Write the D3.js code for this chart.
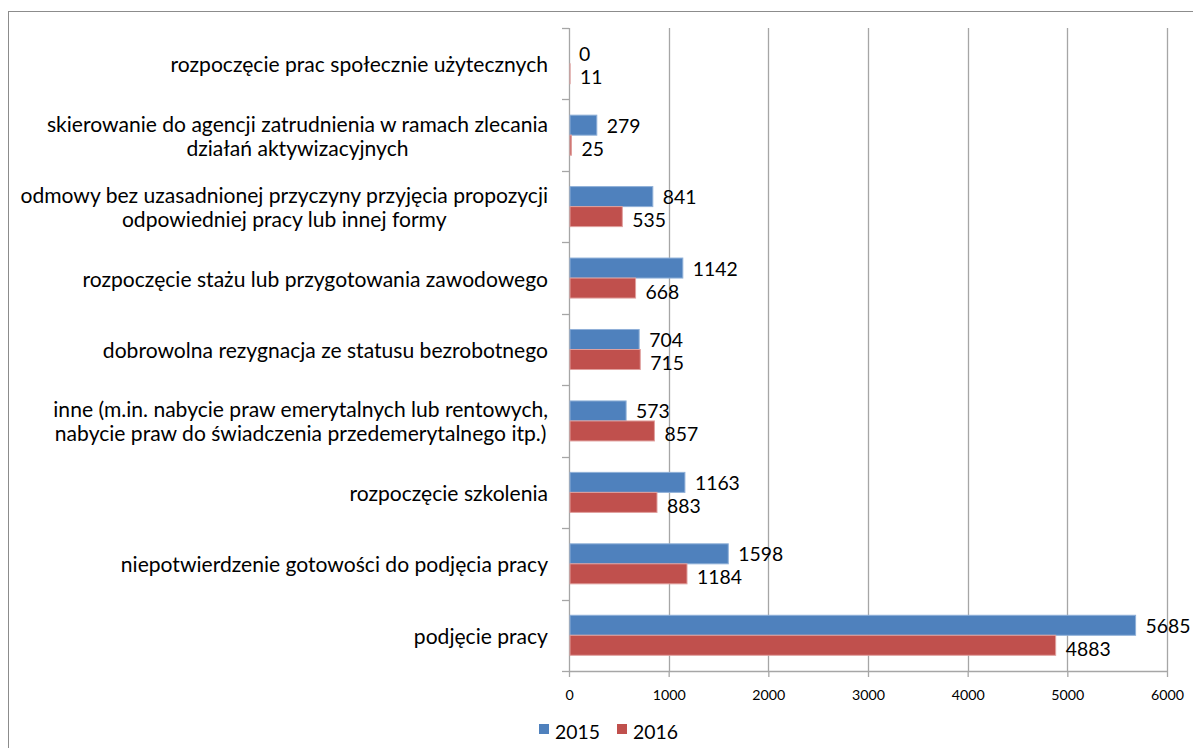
<!DOCTYPE html>
<html><head><meta charset="utf-8">
<script src="https://cdn.jsdelivr.net/npm/d3@7"></script>
<style>body{margin:0;background:#fff}svg{display:block}text{font-family:Lato,"Liberation Sans",sans-serif;fill:#000}</style>
</head><body>
<svg id="c" width="1193" height="748"></svg>
<script>
const categories = [
  ["rozpoczęcie prac społecznie użytecznych"],
  ["skierowanie do agencji zatrudnienia w ramach zlecania","działań aktywizacyjnych"],
  ["odmowy bez uzasadnionej przyczyny przyjęcia propozycji","odpowiedniej pracy lub innej formy"],
  ["rozpoczęcie stażu lub przygotowania zawodowego"],
  ["dobrowolna rezygnacja ze statusu bezrobotnego"],
  ["inne (m.in. nabycie praw emerytalnych lub rentowych,","nabycie praw do świadczenia przedemerytalnego itp.)"],
  ["rozpoczęcie szkolenia"],
  ["niepotwierdzenie gotowości do podjęcia pracy"],
  ["podjęcie pracy"]
];
const seriesNames = ["2015","2016"];
const values2015 = [0,279,841,1142,704,573,1163,1598,5685];
const values2016 = [11,25,535,668,715,857,883,1184,4883];
const xTicks = [0,1000,2000,3000,4000,5000,6000];
const colors = ["#4F81BD","#C0504D"];
const strokes = ["#8FB0D8","#E0A09E"];

(function(){
const svg = d3.select("#c");
const pl = 569, pr = 1167, pt = 28, pb = 671;

svg.append("rect").attr("x",8.5).attr("y",11.5).attr("width",1200).attr("height",760)
  .attr("fill","none").attr("stroke","#8c8c8c").attr("stroke-width",1);

const x = d3.scaleLinear().domain([0,6000]).range([pl,pr]);
const idx = d3.range(categories.length);
const y = d3.scaleBand().domain(idx).range([pt,pb]).padding(0);
const ys = d3.scaleBand().domain(seriesNames).range([0,y.bandwidth()]).paddingInner(0).paddingOuter(0.785);

function fit(str, target, base){
  const t = svg.append("text").attr("font-size",base).text(str);
  const w = t.node().getComputedTextLength(); t.remove();
  return base*target/w;
}
const catFont = fit("odmowy bez uzasadnionej przyczyny przyjęcia propozycji", 528, 20);
const valFont = fit("5685", 45, 20);
const tickFont = fit("6000", 33, 14);
const legFont = fit("2015", 45, 20);

svg.append("g").selectAll("line").data(xTicks.slice(1)).join("line")
  .attr("x1",d=>Math.round(x(d))+0.5).attr("x2",d=>Math.round(x(d))+0.5)
  .attr("y1",pt).attr("y2",pb)
  .attr("stroke","#a6a6a6").attr("stroke-width",1.3);

const xa = svg.append("g").attr("transform",`translate(0,${pb})`)
  .call(d3.axisBottom(x).tickValues(xTicks).tickSize(6).tickSizeOuter(0).tickFormat(d3.format("d")));
xa.select(".domain").attr("stroke","#a6a6a6").attr("stroke-width",1.3);
xa.selectAll(".tick line").attr("stroke","#a6a6a6").attr("stroke-width",1.3);
xa.selectAll(".tick text").attr("font-size",tickFont).attr("font-family","Lato,'Liberation Sans',sans-serif").attr("y",24).attr("dy","0.32em").attr("fill","#000");

const bounds = idx.map(i=>y(i)).concat([pb]);
svg.append("line").attr("x1",pl+0.5).attr("x2",pl+0.5).attr("y1",pt).attr("y2",pb)
  .attr("stroke","#a6a6a6").attr("stroke-width",1.3);
svg.append("g").selectAll("line").data(bounds).join("line")
  .attr("x1",pl-7).attr("x2",pl).attr("y1",d=>Math.round(d)+0.5).attr("y2",d=>Math.round(d)+0.5)
  .attr("stroke","#a6a6a6").attr("stroke-width",1.3);

const series = [values2015, values2016];
const labShift = [0,3];
series.forEach((vals,s)=>{
  const g = svg.append("g");
  g.selectAll("rect").data(idx).join("rect")
    .attr("x",pl+1).attr("y",i=>y(i)+ys(seriesNames[s]))
    .attr("width",i=>Math.max(0,x(vals[i])-pl-1)).attr("height",ys.bandwidth())
    .attr("fill",colors[s]).attr("stroke",i=>vals[i]>0?strokes[s]:"none").attr("stroke-width",1);
  g.selectAll("text").data(idx).join("text")
    .attr("x",i=>x(vals[i])+10).attr("y",i=>y(i)+ys(seriesNames[s])+ys.bandwidth()/2+labShift[s])
    .attr("dominant-baseline","central").attr("font-size",valFont).text(i=>vals[i]);
});

const lh = 24;
categories.forEach((lines,i)=>{
  const g = svg.append("g");
  const cy = y(i)+y.bandwidth()/2;
  const texts = lines.map((l,k)=>g.append("text").attr("font-size",catFont)
    .attr("y",cy+(k-(lines.length-1)/2)*lh).attr("dominant-baseline","central").text(l));
  const widths = texts.map(t=>t.node().getComputedTextLength());
  const maxW = d3.max(widths);
  const cx = 548 - maxW/2;
  texts.forEach(t=>t.attr("x",cx).attr("text-anchor","middle"));
});

const legX = [539,617];
seriesNames.forEach((n,s)=>{
  svg.append("rect").attr("x",legX[s]).attr("y",724).attr("width",10).attr("height",10).attr("fill",colors[s]);
  svg.append("text").attr("x",legX[s]+16).attr("y",731).attr("dominant-baseline","central")
    .attr("font-size",legFont).text(n);
});
})();
</script>
</body></html>
